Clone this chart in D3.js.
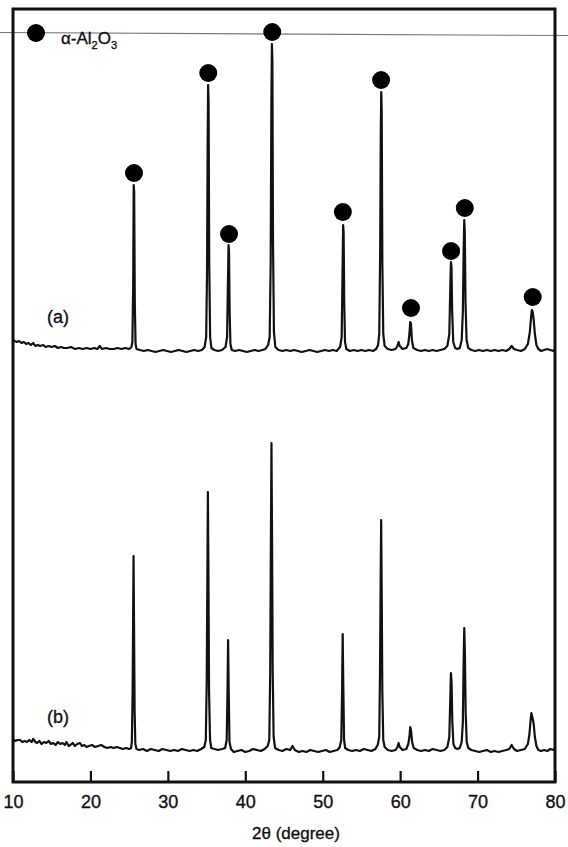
<!DOCTYPE html>
<html>
<head>
<meta charset="utf-8">
<script src="https://cdn.jsdelivr.net/npm/d3@7"></script>
<style>
  body { margin: 0; background: #fff; }
  svg text { font-family: "Liberation Sans", Arial, sans-serif; fill: #111; stroke: #111; stroke-width: 0.35px; }
</style>
</head>
<body>
<div id="chart"></div>
<script>
// XRD patterns, 2theta (degree) vs intensity (a.u.)
const tickValues = [10, 20, 30, 40, 50, 60, 70, 80];

// pattern (b), lower trace
const patternB = [
  [10.0,43],[10.3,41],[10.6,42],[10.9,42],[11.2,40],[11.5,41],[11.8,40],[12.1,42],[12.4,40],[12.6,43],
  [12.9,40],[13.1,39],[13.4,41],[13.7,38],[14.0,40],[14.3,39],[14.6,41],[14.9,38],[15.2,39],[15.5,37],
  [15.8,40],[16.1,38],[16.4,39],[16.7,37],[16.9,40],[17.2,36],[17.4,37],[17.7,39],[18.0,36],[18.3,38],
  [18.65,39],[18.9,36],[19.2,37],[19.5,35],[19.8,36],[20.2,37],[20.6,35],[21.0,36],[21.4,37],[21.8,35],
  [22.2,34],[22.6,35],[23.0,34],[23.4,35],[23.8,34],[24.2,33],[24.6,34],[25.0,33],[25.25,34],
  [25.35,40],[25.45,90],[25.52,170],[25.57,226],[25.63,160],[25.71,70],[25.8,38],[25.95,33],
  [26.3,32],[26.8,33],[27.3,31],[27.8,33],[28.3,32],[28.8,31],[29.3,33],[29.8,32],[30.3,31],[30.8,32],
  [31.3,31],[31.8,33],[32.3,32],[32.8,31],[33.3,32],[33.8,31],[34.3,33],[34.7,35],
  [34.9,42],[35.02,100],[35.1,200],[35.17,290],[35.24,210],[35.32,90],[35.45,42],[35.6,34],
  [36.0,33],[36.5,32],[37.0,33],[37.4,34],
  [37.6,42],[37.7,90],[37.78,142],[37.86,90],[37.96,40],[38.15,33],
  [38.5,30],[39.0,31],[39.5,32],[40.0,30],[40.5,31],[41.0,33],[41.5,32],[42.0,31],[42.5,33],[42.9,36],
  [43.1,42],[43.22,110],[43.3,230],[43.38,339],[43.46,240],[43.54,110],[43.66,45],[43.85,34],
  [44.3,32],[44.8,31],[45.3,33],[45.8,32],[46.1,36],[46.4,32],[46.9,30],[47.4,31],[47.9,30],[48.4,32],
  [48.9,31],[49.4,30],[49.9,31],[50.4,32],[50.9,30],[51.4,31],[51.9,32],[52.2,35],
  [52.4,42],[52.5,90],[52.58,148],[52.66,95],[52.76,42],[52.9,34],
  [53.3,32],[53.8,31],[54.3,32],[54.8,31],[55.3,33],[55.8,32],[56.3,31],[56.8,33],[57.1,37],
  [57.3,45],[57.4,110],[57.48,200],[57.55,262],[57.62,190],[57.7,90],[57.82,42],[58.0,35],
  [58.4,32],[58.9,31],[59.4,32],[59.65,35],[59.8,39],[59.95,35],[60.3,32],[60.8,33],[61.05,38],
  [61.2,45],[61.3,55],[61.4,52],[61.55,40],[61.75,34],
  [62.2,32],[62.7,31],[63.2,32],[63.7,31],[64.2,33],[64.7,32],[65.2,31],[65.7,32],[66.1,35],
  [66.35,45],[66.48,85],[66.56,109],[66.64,100],[66.74,60],[66.88,38],[67.1,34],[67.4,33],[67.7,34],[67.95,40],
  [68.1,60],[68.2,120],[68.28,154],[68.36,130],[68.46,70],[68.6,40],[68.8,34],
  [69.2,32],[69.7,31],[70.2,30],[70.7,31],[71.2,32],[71.7,30],[72.2,31],[72.7,30],[73.2,31],[73.7,32],
  [74.1,33],[74.4,37],[74.7,33],[75.1,31],[75.6,32],[76.1,33],[76.5,38],
  [76.7,48],[76.85,62],[76.95,69],[77.1,64],[77.25,58],[77.4,45],[77.6,36],[77.85,32],
  [78.2,31],[78.6,32],[79.0,31],[79.4,33],[79.8,32],[80.0,34]
];

// pattern (a), upper trace
const patternA = [
  [10.0,42],[10.2,41],[10.5,40],[10.8,41],[11.1,39],[11.4,40],[11.7,38],[12.0,39],[12.3,37],[12.6,39],
  [12.9,36],[13.2,37],[13.5,36],[13.9,37],[14.2,35],[14.6,36],[15.0,35],[15.4,36],[15.8,34],[16.2,35],
  [16.6,34],[17.0,34],[17.5,35],[18.0,33],[18.5,34],[19.0,33],[19.5,34],[20.0,33],[20.5,34],[20.9,33],
  [21.2,36],[21.5,33],[22.0,34],[22.5,33],[23.0,33],[23.5,34],[24.0,33],[24.5,34],[25.0,33],[25.3,35],
  [25.42,40],[25.52,95],[25.59,197],[25.65,190],[25.73,80],[25.83,38],[25.95,33],
  [26.4,32],[26.9,31],[27.4,32],[27.9,31],[28.4,30],[28.9,31],[29.4,32],[29.9,31],[30.4,30],[30.9,31],
  [31.4,32],[31.9,31],[32.4,30],[32.9,31],[33.4,32],[33.9,31],[34.4,32],[34.75,35],
  [34.95,45],[35.06,110],[35.14,240],[35.2,297],[35.26,280],[35.34,120],[35.46,45],[35.62,34],
  [36.0,32],[36.5,31],[37.0,32],[37.45,35],
  [37.65,45],[37.76,100],[37.84,137],[37.9,130],[37.98,70],[38.08,38],[38.25,32],
  [38.7,31],[39.2,32],[39.7,31],[40.2,30],[40.7,31],[41.2,32],[41.7,31],[42.2,32],[42.6,33],[42.95,37],
  [43.15,45],[43.28,120],[43.37,280],[43.44,338],[43.5,320],[43.58,140],[43.7,50],[43.88,35],
  [44.3,32],[44.8,31],[45.3,32],[45.8,31],[46.3,32],[46.8,31],[47.3,30],[47.8,31],[48.3,32],[48.8,31],
  [49.3,30],[49.8,31],[50.3,32],[50.8,31],[51.3,32],[51.8,31],[52.25,35],
  [52.45,45],[52.56,110],[52.64,157],[52.7,150],[52.78,80],[52.88,40],[53.05,33],
  [53.5,31],[54.0,32],[54.5,31],[55.0,32],[55.5,31],[56.0,32],[56.5,31],[56.9,33],[57.15,37],
  [57.3,48],[57.42,130],[57.5,250],[57.56,290],[57.62,270],[57.7,120],[57.82,48],[58.0,36],
  [58.4,33],[58.9,32],[59.4,33],[59.65,36],[59.8,40],[59.95,36],[60.3,33],[60.8,34],[61.05,38],
  [61.2,48],[61.3,60],[61.4,58],[61.52,42],[61.7,34],
  [62.2,32],[62.7,31],[63.2,32],[63.7,31],[64.2,32],[64.7,31],[65.2,32],[65.7,33],[66.1,36],
  [66.35,48],[66.48,95],[66.56,120],[66.63,115],[66.72,70],[66.86,40],[67.1,34],[67.4,33],[67.7,34],[67.95,42],
  [68.1,70],[68.2,130],[68.28,162],[68.35,150],[68.44,80],[68.58,42],[68.8,34],
  [69.2,32],[69.7,31],[70.2,32],[70.7,31],[71.2,32],[71.7,31],[72.2,32],[72.7,31],[73.2,32],[73.7,31],
  [74.1,33],[74.4,36],[74.7,33],[75.1,32],[75.6,31],[76.1,33],[76.5,38],
  [76.75,50],[76.9,64],[77.02,72],[77.12,70],[77.25,62],[77.4,48],[77.6,37],[77.85,33],
  [78.2,31],[78.6,32],[79.0,33],[79.4,32],[79.8,31],[80.0,33]
];
const offsetA = 400;

// alpha-Al2O3 reflections marked on pattern (a)
const markerTheta = [25.63, 35.22, 37.9, 43.48, 52.6, 57.54, 61.4, 66.58, 68.35, 77.12];
const markerLevel = [209, 309, 148, 350, 170, 302, 74, 131, 174, 85];

const width = 568, height = 847;
const plotLeft = 13, plotRight = 555, plotTop = 9, plotBottom = 782;

const svg = d3.select('#chart')
  .append('svg')
  .attr('width', width)
  .attr('height', height);

svg.append('rect').attr('width', width).attr('height', height).attr('fill', '#fff');

const x = d3.scaleLinear().domain([10, 80]).range([plotLeft, plotRight]);
const y = d3.scaleLinear().domain([0, plotBottom - plotTop]).range([plotBottom, plotTop]);

// faint scan line across the top
svg.append('line')
  .attr('x1', 0).attr('y1', 32.5)
  .attr('x2', width).attr('y2', 35.5)
  .attr('stroke', '#777')
  .attr('stroke-width', 1.1);

const line = d3.line()
  .x(d => x(d[0]))
  .y(d => y(d[1]));

svg.append('path')
  .datum(patternB)
  .attr('d', line)
  .attr('fill', 'none')
  .attr('stroke', '#111')
  .attr('stroke-width', 2.2)
  .attr('stroke-linejoin', 'round');

svg.append('path')
  .datum(patternA.map(d => [d[0], d[1] + offsetA]))
  .attr('d', line)
  .attr('fill', 'none')
  .attr('stroke', '#111')
  .attr('stroke-width', 2.2)
  .attr('stroke-linejoin', 'round');

svg.selectAll('circle.mark')
  .data(markerTheta)
  .enter()
  .append('circle')
  .attr('class', 'mark')
  .attr('cx', d => x(d))
  .attr('cy', (d, i) => y(markerLevel[i] + offsetA))
  .attr('r', 9)
  .attr('fill', '#000');

// frame
svg.append('rect')
  .attr('x', plotLeft).attr('y', plotTop)
  .attr('width', plotRight - plotLeft).attr('height', plotBottom - plotTop)
  .attr('fill', 'none')
  .attr('stroke', '#111')
  .attr('stroke-width', 3);

const xAxis = d3.axisBottom(x)
  .tickValues(tickValues)
  .tickSizeInner(-11)
  .tickSizeOuter(0)
  .tickFormat(d3.format('d'));

const gx = svg.append('g')
  .attr('transform', `translate(0,${plotBottom})`)
  .call(xAxis);
gx.select('.domain').remove();
gx.selectAll('line').attr('stroke', '#111').attr('stroke-width', 2.2);
gx.selectAll('text')
  .attr('y', 26)
  .attr('dy', 0)
  .attr('fill', '#111')
  .style('font-size', '18px')
  .style('font-family', '"Liberation Sans", Arial, sans-serif');

svg.append('text')
  .attr('x', 296).attr('y', 839)
  .attr('text-anchor', 'middle')
  .style('font-size', '17px')
  .text('2θ (degree)');

svg.append('text')
  .attr('x', 58).attr('y', 323)
  .attr('text-anchor', 'middle')
  .style('font-size', '18px')
  .text('(a)');

svg.append('text')
  .attr('x', 58).attr('y', 723)
  .attr('text-anchor', 'middle')
  .style('font-size', '18px')
  .text('(b)');

// legend
svg.append('circle')
  .attr('cx', 36).attr('cy', 33).attr('r', 9).attr('fill', '#000');

const leg = svg.append('text')
  .attr('x', 61).attr('y', 44)
  .style('font-size', '17px');
leg.append('tspan').text('α-Al');
leg.append('tspan').attr('dy', 5).style('font-size', '11px').text('2');
leg.append('tspan').attr('dy', -5).text('O');
leg.append('tspan').attr('dy', 5).style('font-size', '11px').text('3');
</script>
</body>
</html>
